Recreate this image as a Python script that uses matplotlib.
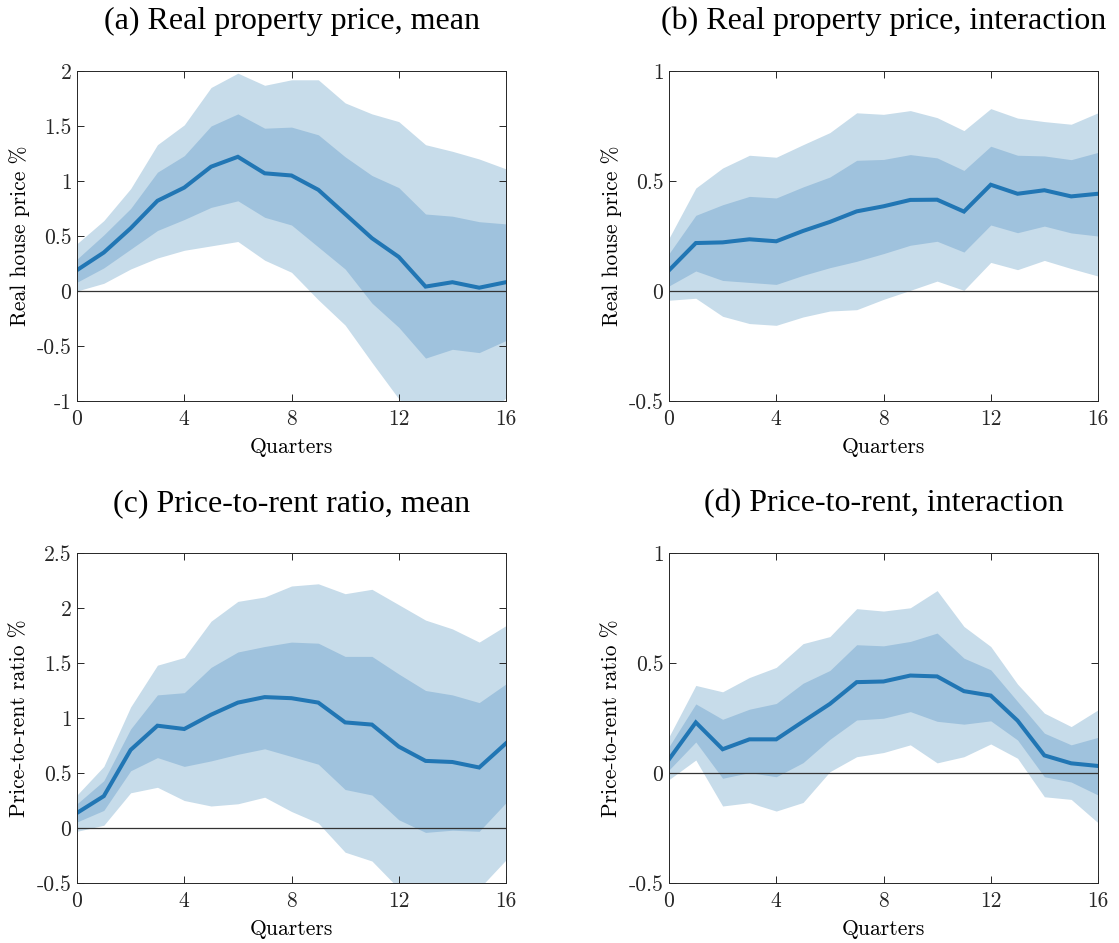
import numpy as np
import matplotlib
matplotlib.use("Agg")
import matplotlib.pyplot as plt

quarters = np.arange(17)

# (a) Real property price, mean
a_mean = [0.19, 0.35, 0.57, 0.82, 0.94, 1.13, 1.22, 1.07, 1.05, 0.92, 0.70, 0.48, 0.31, 0.04, 0.08, 0.03, 0.08]
a_hi68 = [0.29, 0.51, 0.75, 1.08, 1.23, 1.50, 1.61, 1.48, 1.49, 1.42, 1.22, 1.05, 0.94, 0.70, 0.68, 0.63, 0.61]
a_lo68 = [0.08, 0.21, 0.38, 0.55, 0.65, 0.76, 0.82, 0.67, 0.60, 0.40, 0.20, -0.11, -0.33, -0.61, -0.53, -0.56, -0.45]
a_hi90 = [0.43, 0.64, 0.93, 1.33, 1.51, 1.85, 1.98, 1.87, 1.92, 1.92, 1.71, 1.61, 1.54, 1.33, 1.27, 1.20, 1.11]
a_lo90 = [0.00, 0.07, 0.20, 0.30, 0.37, 0.41, 0.45, 0.28, 0.17, -0.08, -0.31, -0.65, -0.98, -1.25, -1.20, -1.20, -0.97]

# (b) Real property price, interaction
b_mean = [0.094, 0.218, 0.221, 0.235, 0.226, 0.273, 0.314, 0.362, 0.385, 0.414, 0.415, 0.361, 0.483, 0.442, 0.458, 0.430, 0.442]
b_hi68 = [0.17, 0.344, 0.392, 0.43, 0.423, 0.473, 0.518, 0.594, 0.598, 0.62, 0.605, 0.548, 0.658, 0.617, 0.614, 0.597, 0.63]
b_lo68 = [0.023, 0.091, 0.048, 0.039, 0.030, 0.071, 0.106, 0.135, 0.17, 0.208, 0.226, 0.177, 0.30, 0.265, 0.295, 0.264, 0.25]
b_hi90 = [0.24, 0.468, 0.559, 0.617, 0.608, 0.665, 0.72, 0.81, 0.803, 0.82, 0.788, 0.729, 0.829, 0.786, 0.77, 0.758, 0.81]
b_lo90 = [-0.042, -0.033, -0.115, -0.148, -0.156, -0.118, -0.091, -0.085, -0.038, 0.003, 0.045, 0.003, 0.13, 0.097, 0.139, 0.102, 0.068]

# (c) Price-to-rent ratio, mean
c_mean = [0.137, 0.29, 0.71, 0.93, 0.90, 1.03, 1.14, 1.19, 1.18, 1.14, 0.96, 0.94, 0.74, 0.61, 0.60, 0.55, 0.77]
c_hi68 = [0.22, 0.43, 0.90, 1.21, 1.23, 1.46, 1.60, 1.65, 1.69, 1.68, 1.56, 1.56, 1.40, 1.25, 1.21, 1.14, 1.31]
c_lo68 = [0.055, 0.16, 0.52, 0.64, 0.56, 0.61, 0.67, 0.72, 0.65, 0.58, 0.35, 0.30, 0.075, -0.04, -0.02, -0.03, 0.23]
c_hi90 = [0.30, 0.56, 1.10, 1.48, 1.55, 1.88, 2.06, 2.10, 2.20, 2.22, 2.13, 2.17, 2.03, 1.89, 1.81, 1.69, 1.84]
c_lo90 = [-0.03, 0.025, 0.32, 0.37, 0.25, 0.20, 0.22, 0.28, 0.15, 0.045, -0.22, -0.30, -0.55, -0.65, -0.70, -0.55, -0.29]

# (d) Price-to-rent, interaction
d_mean = [0.062, 0.23, 0.108, 0.153, 0.153, 0.234, 0.314, 0.413, 0.416, 0.443, 0.439, 0.372, 0.352, 0.238, 0.08, 0.044, 0.032]
d_hi68 = [0.12, 0.314, 0.244, 0.29, 0.316, 0.408, 0.466, 0.583, 0.578, 0.598, 0.636, 0.522, 0.469, 0.325, 0.181, 0.128, 0.162]
d_lo68 = [0.014, 0.141, -0.024, 0.002, -0.017, 0.047, 0.153, 0.241, 0.249, 0.279, 0.235, 0.222, 0.237, 0.15, -0.017, -0.041, -0.10]
d_hi90 = [0.165, 0.398, 0.369, 0.434, 0.48, 0.588, 0.62, 0.747, 0.736, 0.751, 0.829, 0.666, 0.575, 0.404, 0.272, 0.211, 0.287]
d_lo90 = [-0.03, 0.059, -0.15, -0.135, -0.173, -0.134, 0.006, 0.074, 0.093, 0.128, 0.046, 0.074, 0.132, 0.067, -0.108, -0.12, -0.226]

titles = ["(a) Real property price, mean", "(b) Real property price, interaction",
          "(c) Price-to-rent ratio, mean", "(d) Price-to-rent, interaction"]
ylabels = ["Real house price %", "Real house price %",
           "Price-to-rent ratio %", "Price-to-rent ratio %"]
ylims = [(-1, 2), (-0.5, 1), (-0.5, 2.5), (-0.5, 1)]
yticks = [[-1, -0.5, 0, 0.5, 1, 1.5, 2], [-0.5, 0, 0.5, 1],
          [-0.5, 0, 0.5, 1, 1.5, 2, 2.5], [-0.5, 0, 0.5, 1]]
xticks = [0, 4, 8, 12, 16]

panels = [
    (a_mean, a_lo68, a_hi68, a_lo90, a_hi90),
    (b_mean, b_lo68, b_hi68, b_lo90, b_hi90),
    (c_mean, c_lo68, c_hi68, c_lo90, c_hi90),
    (d_mean, d_lo68, d_hi68, d_lo90, d_hi90),
]

LINE = "#2176b4"
BAND68 = "#9fc2dd"
BAND90 = "#c7dcea"
TICKFONT = "cmr10"
TITLEFONT = "Liberation Serif"


def fmt(v):
    return ("%g" % v).replace("\u2212", "-")


fig = plt.figure(figsize=(11.19, 9.43), dpi=100)
W, H = 1119, 943
boxes = [(77, 71), (669, 71), (77, 553), (669, 553)]
aw, ah = 429, 330

for i, (box, data) in enumerate(zip(boxes, panels)):
    x0, ytop = box
    ax = fig.add_axes([x0 / W, 1 - (ytop + ah) / H, aw / W, ah / H])
    mean, lo68, hi68, lo90, hi90 = data
    ax.fill_between(quarters, lo90, hi90, color=BAND90, lw=0, zorder=1)
    ax.fill_between(quarters, lo68, hi68, color=BAND68, lw=0, zorder=2)
    ax.axhline(0, color="#333333", lw=0.9, zorder=3)
    ax.plot(quarters, mean, color=LINE, lw=2.9, zorder=4, solid_joinstyle="miter")
    ax.set_xlim(0, 16)
    ax.set_ylim(*ylims[i])
    ax.set_xticks(xticks)
    ax.set_xticklabels([str(t) for t in xticks], fontfamily=TICKFONT, fontsize=15.5)
    ax.set_yticks(yticks[i])
    ax.set_yticklabels([fmt(t) for t in yticks[i]], fontfamily=TICKFONT, fontsize=15.5)
    ax.tick_params(direction="in", top=True, right=True, length=5, width=0.7,
                   colors="#262626")
    ax.tick_params(axis="x", pad=6)
    ax.tick_params(axis="y", pad=4)
    for sp in ax.spines.values():
        sp.set_linewidth(0.7)
        sp.set_color("#262626")
        sp.set_zorder(5)
    ax.set_xlabel("Quarters", fontfamily=TICKFONT, fontsize=15.5, labelpad=6)
    ax.set_ylabel(ylabels[i], fontfamily=TICKFONT, fontsize=15.5, labelpad=5)
    ax.set_title(titles[i], fontfamily=TITLEFONT, fontsize=23, pad=30)

fig.savefig("out.png", dpi=100)
